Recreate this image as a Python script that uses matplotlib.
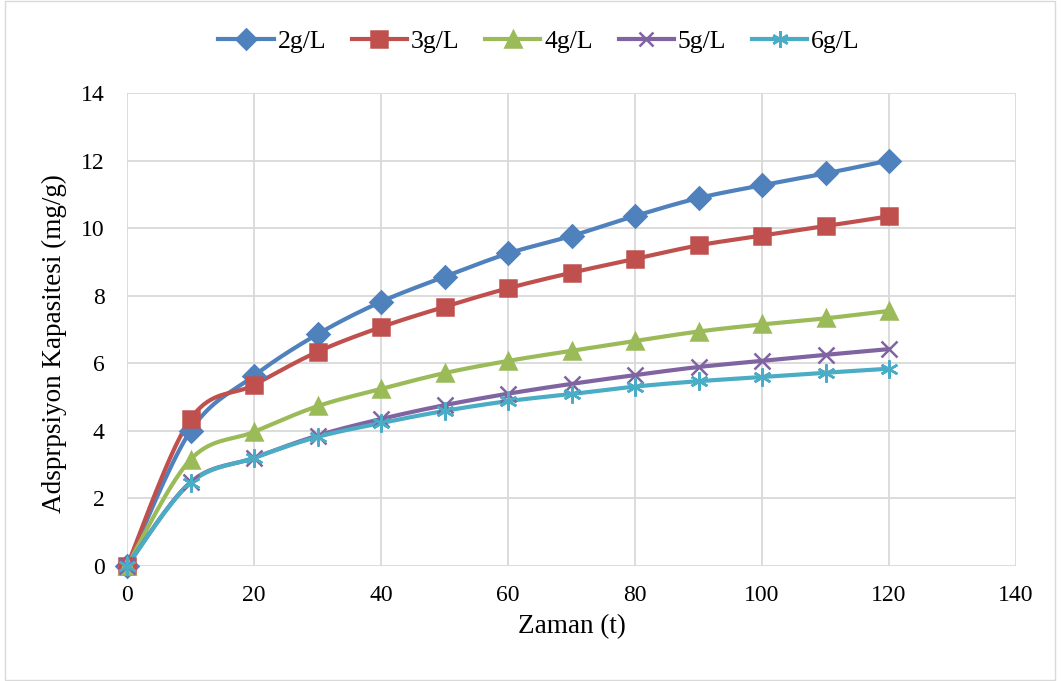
import numpy as np
import matplotlib.pyplot as plt
from matplotlib.patches import Rectangle

# Sampling times (minutes)
zaman = [0, 10, 20, 30, 40, 50, 60, 70, 80, 90, 100, 110, 120]

# Adsorption capacity (mg/g) for each adsorbent dose
q_2 = [0, 4.0, 5.63, 6.86, 7.82, 8.56, 9.25, 9.77, 10.36, 10.89, 11.27, 11.62, 12.0]
q_3 = [0, 4.35, 5.36, 6.34, 7.07, 7.67, 8.22, 8.68, 9.09, 9.49, 9.78, 10.06, 10.35]
q_4 = [0, 3.15, 3.97, 4.73, 5.24, 5.71, 6.07, 6.37, 6.66, 6.94, 7.15, 7.33, 7.55]
q_5 = [0, 2.48, 3.2, 3.86, 4.35, 4.76, 5.1, 5.39, 5.65, 5.89, 6.07, 6.25, 6.42]
q_6 = [0, 2.46, 3.2, 3.82, 4.23, 4.59, 4.88, 5.09, 5.31, 5.47, 5.59, 5.72, 5.84]

labels = ["2g/L", "3g/L", "4g/L", "5g/L", "6g/L"]
colors = ["#4f81bd", "#c0504d", "#9bbb59", "#8064a2", "#4bacc6"]
markers = ["D", "s", "^", "x", (6, 2, 0)]
msizes = [11, 12, 12, 11, 13]


def smooth(x, y, n=20):
    # Bezier smoothing through every point, like a spreadsheet smoothed line
    x = np.asarray(x, float)
    y = np.asarray(y, float)
    px = np.concatenate([[x[0]], x, [x[-1]]])
    py = np.concatenate([[y[0]], y, [y[-1]]])
    xs, ys = [], []
    t = np.linspace(0, 1, n)
    for i in range(1, len(px) - 2):
        p0 = np.array([px[i], py[i]])
        p3 = np.array([px[i + 1], py[i + 1]])
        c1 = p0 + (np.array([px[i + 1], py[i + 1]]) - np.array([px[i - 1], py[i - 1]])) / 6
        c2 = p3 - (np.array([px[i + 2], py[i + 2]]) - np.array([px[i], py[i]])) / 6
        b = (np.outer((1 - t) ** 3, p0) + np.outer(3 * (1 - t) ** 2 * t, c1)
             + np.outer(3 * (1 - t) * t ** 2, c2) + np.outer(t ** 3, p3))
        xs.extend(b[:, 0])
        ys.extend(b[:, 1])
    return np.array(xs), np.array(ys)


plt.rcParams['font.family'] = ['Liberation Serif', 'DejaVu Serif']

fig = plt.figure(figsize=(10.61, 6.81), dpi=100)
ax = fig.add_axes([127 / 1061, 1 - 566 / 681, (1016 - 127) / 1061, (566 - 93) / 681])

series = [q_2, q_3, q_4, q_5, q_6]
handles = []
for q, lab, c, m, ms in zip(series, labels, colors, markers, msizes):
    sx, sy = smooth(zaman, q)
    ax.plot(sx, sy, color=c, lw=3, solid_capstyle='round', zorder=3, clip_on=False)
    ax.plot(zaman, q, ls='none', marker=m, ms=ms, color=c, mec=c, mew=1.8,
            zorder=4, clip_on=False)
    h, = ax.plot([], [], color=c, lw=3, marker=m, ms=ms - 1, mec=c, mfc=c, mew=1.8)
    handles.append(h)

ax.set_xlim(0, 140)
ax.set_ylim(0, 14)
ax.set_xticks(np.arange(0, 141, 20))
ax.set_yticks(np.arange(0, 15, 2))
ax.grid(True, color='#d9d9d9', lw=1.3)
ax.set_axisbelow(True)
for s in ax.spines.values():
    s.set_visible(False)
ax.tick_params(length=0, labelsize=17)
ax.tick_params(axis='x', pad=14)
ax.tick_params(axis='y', pad=16)
ax.set_xlabel("Zaman (t)", fontsize=19.5)
ax.set_ylabel("Adsprpsiyon Kapasitesi (mg/g)", fontsize=19.5)
ax.xaxis.set_label_coords(0.5, -0.102)
ax.yaxis.set_label_coords(-0.068, 0.47)

fig.legend(handles, labels, loc='upper center', bbox_to_anchor=(0.508, 0.99), ncol=5,
           frameon=False, fontsize=18.5, handlelength=2.15, handletextpad=0.15,
           columnspacing=1.0)

fig.patches.append(Rectangle((5 / 1061, 0.002), 1050 / 1061, 0.996, transform=fig.transFigure,
                             fill=False, ec='#d9d9d9', lw=1))

fig.savefig("out.png", dpi=100)
